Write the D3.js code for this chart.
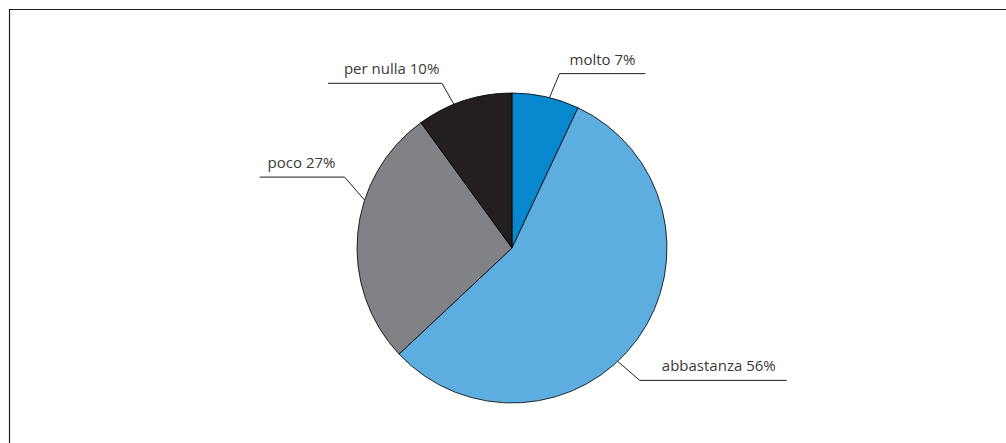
<!DOCTYPE html>
<html>
<head>
<meta charset="utf-8">
<script src="https://cdn.jsdelivr.net/npm/d3@7"></script>
<style>
  html, body { margin: 0; padding: 0; background: #fff; }
  svg { display: block; }
  text { font-family: "Open Sans", "Noto Sans", sans-serif; fill: #3a3a3a; }
</style>
</head>
<body>
<svg id="chart" width="1006" height="443"></svg>
<script>
// Share of answers, drawn clockwise from 12 o'clock
const categories = ["molto", "abbastanza", "poco", "per nulla"];
const values = [7, 56, 27, 10];
const colors = ["#0787ce", "#5eade0", "#808285", "#231f20"];

// Leader-line layout: angle on the rim (deg), elbow offset, horizontal run,
// and the gap between the end of the line and the label text
const leaders = [
  { angle: 14,  elbow: [10, -24],  run: 86,   side: "right", pad: 10 },
  { angle: 137, elbow: [22, 19],   run: 147,  side: "right", pad: 11 },
  { angle: 288, elbow: [-20, -23], run: -85,  side: "left",  pad: 8 },
  { angle: 338, elbow: [-12, -21], run: -114, side: "left",  pad: 16 }
];

const svg = d3.select("#chart");

// Frame lines along the top and left edges
svg.append("path")
  .attr("d", "M9.5,443 V9.5 H1006")
  .attr("fill", "none")
  .attr("stroke", "#231f20")
  .attr("stroke-width", 1.2);

const cx = 512, cy = 248, radius = 155;
const g = svg.append("g").attr("transform", `translate(${cx},${cy})`);

const pie = d3.pie().sort(null).value(d => d.value);
const arcs = pie(categories.map((c, i) => ({ name: c, value: values[i], color: colors[i] })));
const arc = d3.arc().innerRadius(0).outerRadius(radius);

g.selectAll("path.slice")
  .data(arcs)
  .join("path")
  .attr("class", "slice")
  .attr("d", arc)
  .attr("fill", d => d.data.color)
  .attr("stroke", "#000")
  .attr("stroke-width", 0.8)
  .attr("stroke-linejoin", "round");

// Labels with leader lines
arcs.forEach((d, i) => {
  const L = leaders[i];
  const a = L.angle * Math.PI / 180;
  const p0 = [radius * Math.sin(a), -radius * Math.cos(a)];
  const p1 = [p0[0] + L.elbow[0], p0[1] + L.elbow[1]];
  const p2 = [p1[0] + L.run, p1[1]];
  g.append("path")
    .attr("d", d3.line()([p0, p1, p2]))
    .attr("fill", "none")
    .attr("stroke", "#231f20")
    .attr("stroke-width", 1);
  const right = L.side === "right";
  g.append("text")
    .attr("x", right ? p2[0] - L.pad : p2[0] + L.pad)
    .attr("y", p1[1] - 9)
    .attr("text-anchor", right ? "end" : "start")
    .attr("font-size", 15)
    .text(`${d.data.name} ${d.data.value}%`);
});
</script>
</body>
</html>
